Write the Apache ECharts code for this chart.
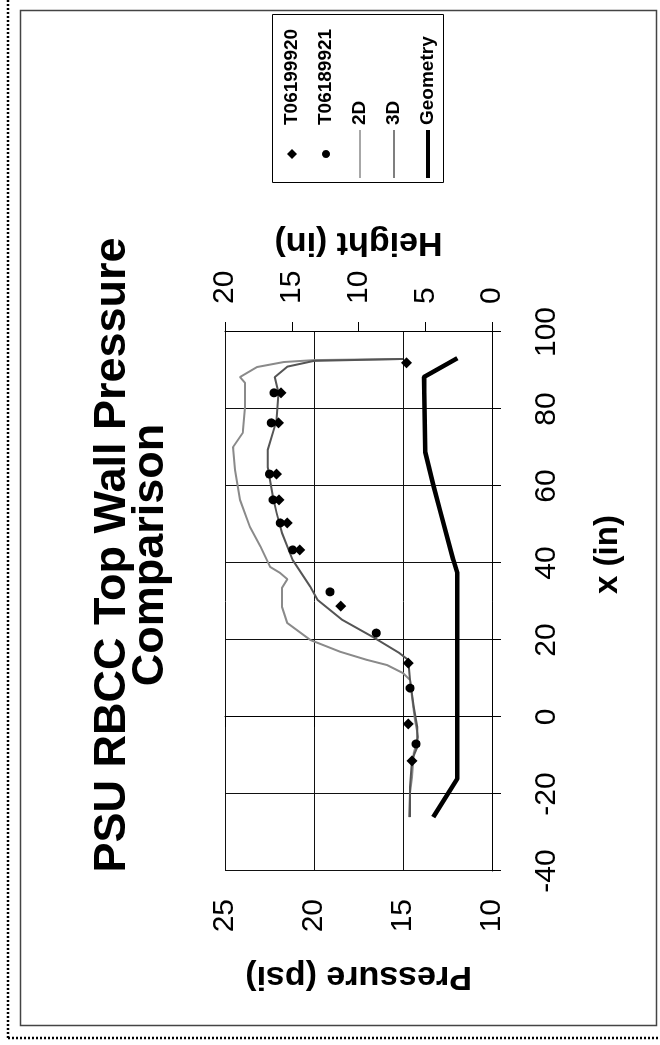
<!DOCTYPE html>
<html><head><meta charset="utf-8">
<script src="https://cdn.jsdelivr.net/npm/echarts@6/dist/echarts.min.js"></script>
<style>
html,body{margin:0;padding:0;background:#fff;width:660px;height:1045px;overflow:hidden;}
#chart{position:absolute;left:0;top:0;width:1045px;height:660px;transform-origin:0 0;transform:translate(0px,1045px) rotate(-90deg);}
</style></head><body><div id="chart"></div>
<script>
// ---- data (x in inches, pressure psi / height in) ----
const titleText = 'PSU RBCC Top Wall Pressure\nComparison';
const seriesNames = ['T06199920', 'T06189921', '2D', '3D', 'Geometry'];
const xAxisRange = [-40, 100, 20];
const pressureRange = [10, 25, 5];
const heightRange = [0, 20, 5];

const t06199920 = [[92.0,14.8],[84.2,21.85],[76.4,22.0],[63.1,22.1],[56.4,21.97],[50.4,21.5],[43.4,20.8],[28.8,18.5],[14.0,14.7],[-1.8,14.7],[-11.4,14.5]];
const t06189921 = [[84.2,22.25],[76.4,22.4],[63.1,22.5],[56.4,22.3],[50.4,21.9],[43.4,21.2],[32.5,19.1],[21.8,16.5],[7.5,14.6],[-7.0,14.27]];
const cfd2D = [[-26,14.66],[-19.7,14.6],[-15.6,14.5],[-9.4,14.4],[-5.2,14.15],[-0.8,14.33],[5.2,14.5],[9.6,14.6],[11.4,15.0],[13.5,15.9],[14.8,17.0],[16.9,18.5],[20.0,20.2],[24.4,21.5],[28.6,21.8],[33.5,21.8],[35.8,21.5],[37.4,21.9],[39.0,22.47],[44.2,23.0],[49.4,23.6],[56.4,24.16],[64.2,24.44],[70.1,24.55],[73.8,24.0],[80.5,23.88],[86.8,23.88],[88.3,24.16],[90.9,23.2],[92.2,21.7],[92.7,20.0],[93.0,15.0]];
const cfd3D = [[-26,14.6],[-18.2,14.6],[-11.2,14.5],[-7.8,14.2],[-2.6,14.2],[2.6,14.4],[9.6,14.6],[14.8,14.7],[16.6,15.2],[20.8,16.7],[25.2,18.4],[30.4,19.8],[33.8,20.2],[40.8,21.2],[47.8,21.8],[53.0,22.1],[57.1,22.3],[64.9,22.6],[69.4,22.6],[77.1,22.1],[84.2,22.0],[88.3,22.2],[91.0,21.5],[92.5,20.0],[93.0,15.0]];
const geometry = [[-26,4.4],[-16,2.6],[37.4,2.6],[40.8,2.9],[53.8,3.9],[60.3,4.4],[68.8,5.0],[88.3,5.1],[93.2,2.6]];

const FONT = "'Liberation Sans', Arial, Helvetica, sans-serif";

// legend icons: a 48x10 box (fixed by two move-to points) holding a small mark
function circlePath(cx, cy, r) {
  let s = 'M' + (cx + r) + ',' + cy;
  for (let i = 1; i <= 16; i++) {
    const a = i / 16 * Math.PI * 2;
    s += 'L' + (cx + r * Math.cos(a)).toFixed(2) + ',' + (cy + r * Math.sin(a)).toFixed(2);
  }
  return s + 'Z';
}
const BOX = 'M0,0M48,10';
const iconDiamond = 'path://' + BOX + 'M24,0L29,5L24,10L19,5Z';
const iconCircle = 'path://' + BOX + circlePath(24, 5, 4);
const iconThin = 'path://' + BOX + 'M0,4.3L48,4.3L48,5.7L0,5.7Z';
const iconThick = 'path://' + BOX + 'M0,3L48,3L48,7L0,7Z';

const chart = echarts.init(document.getElementById('chart'), null, {renderer: 'canvas', width: 1045, height: 660});

const option = {
  backgroundColor: '#fff',
  animation: false,
  textStyle: {fontFamily: FONT, color: '#000'},
  title: {
    text: titleText,
    left: 490,
    textAlign: 'center',
    top: 94,
    padding: 0,
    textStyle: {fontFamily: FONT, fontSize: 45, fontWeight: 'bold', lineHeight: 38, color: '#000'}
  },
  legend: {
    orient: 'vertical',
    left: 867, top: 282,
    padding: 0,
    itemGap: 14,
    itemWidth: 48, itemHeight: 10,
    textStyle: {fontFamily: FONT, fontSize: 19, fontWeight: 'bold', color: '#000', lineHeight: 20},
    data: [
      {name: seriesNames[0], icon: iconDiamond, itemStyle: {color: '#000'}},
      {name: seriesNames[1], icon: iconCircle, itemStyle: {color: '#000'}},
      {name: seriesNames[2], icon: iconThin, itemStyle: {color: '#8a8a8a'}},
      {name: seriesNames[3], icon: iconThin, itemStyle: {color: '#555'}},
      {name: seriesNames[4], icon: iconThick, itemStyle: {color: '#000'}}
    ]
  },
  grid: {left: 174, top: 225, width: 539, height: 267, containLabel: false, outerBoundsMode: 'none'},
  xAxis: {
    type: 'value', min: xAxisRange[0], max: xAxisRange[1], interval: xAxisRange[2],
    position: 'bottom',
    axisLine: {show: true, lineStyle: {color: '#000', width: 1}},
    axisTick: {show: true, inside: false, length: 9, lineStyle: {color: '#000'}},
    axisLabel: {margin: 40, fontSize: 30, color: '#000', fontFamily: FONT},
    splitLine: {show: true, lineStyle: {color: '#111', width: 1}},
    name: 'x (in)', nameLocation: 'middle', nameGap: 99,
    nameTextStyle: {fontSize: 33, fontWeight: 'bold', color: '#000', fontFamily: FONT, padding: [0, 0, 0, 94]}
  },
  yAxis: [{
    type: 'value', min: pressureRange[0], max: pressureRange[1], interval: pressureRange[2],
    position: 'left',
    axisLine: {show: true, lineStyle: {color: '#000', width: 1}},
    axisTick: {show: true, inside: false, length: 10, lineStyle: {color: '#000'}},
    axisLabel: {margin: 28, fontSize: 30, color: '#000', fontFamily: FONT},
    splitLine: {show: true, lineStyle: {color: '#111', width: 1}},
    name: 'Pressure (psi)', nameLocation: 'middle', nameRotate: 90, nameGap: 88,
    nameTextStyle: {fontSize: 34, fontWeight: 'bold', color: '#000', fontFamily: FONT}
  }, {
    type: 'value', min: heightRange[0], max: heightRange[1], interval: heightRange[2],
    position: 'right',
    axisLine: {show: true, lineStyle: {color: '#000', width: 1}},
    axisTick: {show: true, inside: false, length: 10, lineStyle: {color: '#000'}},
    axisLabel: {margin: 28, fontSize: 30, color: '#000', fontFamily: FONT},
    splitLine: {show: false},
    name: 'Height (in)', nameLocation: 'middle', nameRotate: 90, nameGap: 72,
    nameTextStyle: {fontSize: 34, fontWeight: 'bold', color: '#000', fontFamily: FONT}
  }],
  series: [
    {name: seriesNames[0], type: 'scatter', data: t06199920, symbol: 'diamond', symbolSize: 11, itemStyle: {color: '#000', opacity: 1}, z: 5},
    {name: seriesNames[1], type: 'scatter', data: t06189921, symbol: 'circle', symbolSize: 9, itemStyle: {color: '#000', opacity: 1}, z: 5},
    {name: seriesNames[2], type: 'line', data: cfd2D, showSymbol: false, symbol: 'none', lineStyle: {color: '#8a8a8a', width: 2}, itemStyle: {color: '#8a8a8a'}, z: 3},
    {name: seriesNames[3], type: 'line', data: cfd3D, showSymbol: false, symbol: 'none', lineStyle: {color: '#555', width: 2}, itemStyle: {color: '#555'}, z: 4},
    {name: seriesNames[4], type: 'line', yAxisIndex: 1, data: geometry, showSymbol: false, symbol: 'none', lineStyle: {color: '#000', width: 4.5}, itemStyle: {color: '#000'}, z: 4}
  ],
  graphic: [
    {type: 'line', silent: true, shape: {x1: 7, y1: 8, x2: 1045, y2: 8}, style: {stroke: '#000', lineWidth: 2.5, lineDash: [2, 2]}},
    {type: 'line', silent: true, shape: {x1: 7, y1: 8, x2: 7, y2: 660}, style: {stroke: '#000', lineWidth: 2.5, lineDash: [2, 2]}},
    {type: 'rect', silent: true, shape: {x: 19.5, y: 20.5, width: 1015, height: 636}, style: {fill: 'none', stroke: '#444', lineWidth: 1.5}},
    {type: 'rect', silent: true, shape: {x: 862.5, y: 272.5, width: 168, height: 171}, style: {fill: 'none', stroke: '#000', lineWidth: 1}}
  ]
};
chart.setOption(option);
</script>
</body></html>
